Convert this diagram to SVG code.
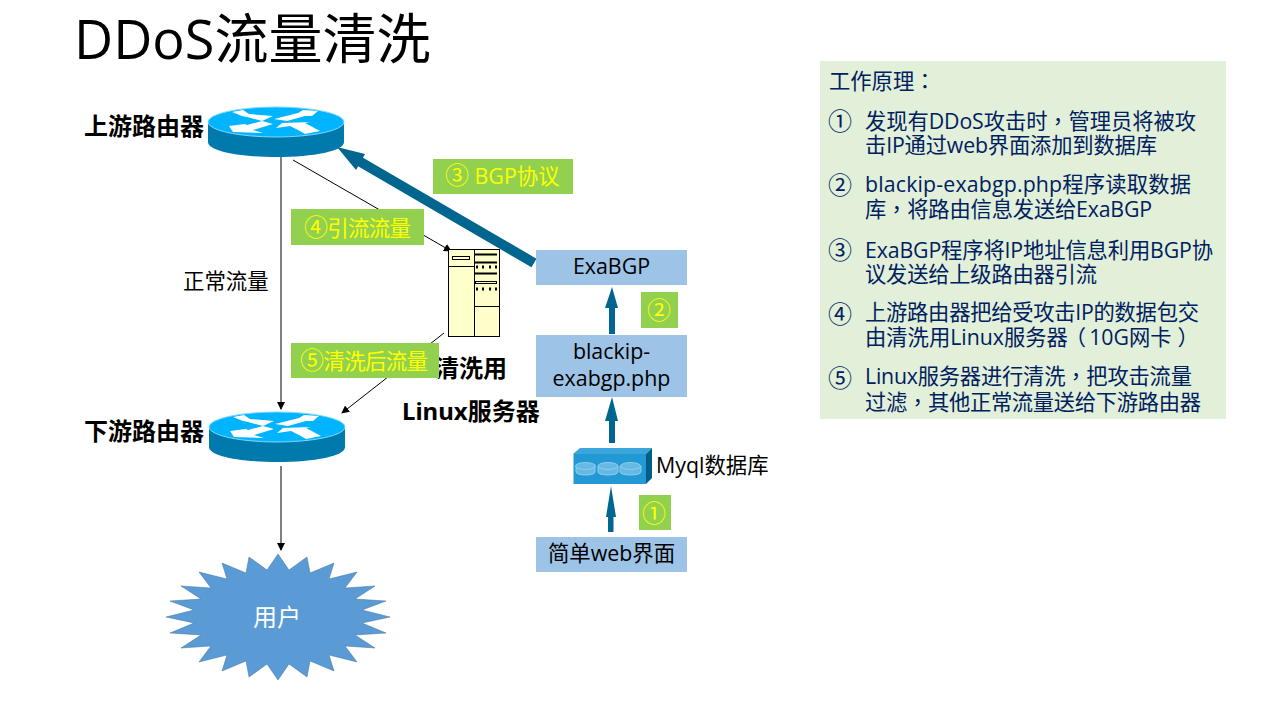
<svg xmlns="http://www.w3.org/2000/svg" width="1280" height="720" viewBox="0 0 1280 720">
<style>
text{font-family:"Open Sans","Noto Sans CJK SC",sans-serif}
.t{font-size:21.300px;fill:#002060}
.c{font-size:24px;fill:#002060;font-family:"Noto Sans CJK SC",sans-serif}
.p{font-family:"Noto Sans CJK TC",sans-serif}
.b{font-size:24px;font-weight:700;fill:#000;font-family:"Noto Sans","Noto Sans CJK SC",sans-serif}
.n{font-size:21.400px;fill:#000}
.y{font-size:21.400px;fill:#ffff00}
.o{font-size:24px;font-family:"Noto Sans CJK SC",sans-serif}
.g{fill:#92d050}
.bx{fill:#9dc3e6}
.th{stroke:#000;stroke-width:1;fill:none}
</style>
<defs>
<marker id="ah" markerWidth="8" markerHeight="8" refX="7" refY="4" orient="auto" markerUnits="userSpaceOnUse"><path d="M0 0L8 4L0 8Z" fill="#000"/></marker>
<g id="rt">
<path d="M-68 0V20C-68 29-38 35 0 35S68 29 68 20V0Z" fill="#0079ad"/>
<ellipse cx="0" cy="0" rx="68" ry="15" fill="#00b4ff" stroke="#7fd9ff" stroke-width="1"/>
<path d="M-44-10L-33-12L-27-8L-3-6L-14-1L-29-5L-34-6ZM42-11L27-12L22-9L-2-3L11-1L29-6L36-6ZM-47 4L-43 10L-13 11L-23 8L-3 2L-14-1L-29 3L-31 2ZM44 9L29 1L34 0L6 1L0 6L14 4L22 8L29 12Z" fill="#fff"/>
</g>
</defs>
<rect width="1280" height="720" fill="#fff"/>
<text id="title" x="74" y="59" font-size="54" fill="#000">DDoS流量清洗</text>
<g id="connectors">
<path class="th" d="M281 157V409" marker-end="url(#ah)"/>
<path class="th" d="M293 160L451 251" marker-end="url(#ah)"/>
<path class="th" d="M444 333L342 413" marker-end="url(#ah)"/>
<path class="th" d="M281 466V550" marker-end="url(#ah)"/>
<path d="M534 263L352 157" stroke="#00658f" stroke-width="10" fill="none"/>
<path d="M337 147L365 154L356 170Z" fill="#00658f"/>
<g fill="#00658f">
<path d="M609 334V308H605L612 287L618 308H615V334Z"/>
<path d="M609 443V421H605L612 397L618 421H615V443Z"/>
<path d="M608 532V517H606L611 486L616 517H613.500V532Z"/>
</g>
</g>
<g id="router-up"><use href="#rt" x="276" y="122"/><text class="b" x="84" y="135">上游路由器</text></g>
<g id="router-down"><use href="#rt" x="277" y="427"/><text class="b" x="84" y="440">下游路由器</text></g>
<g id="server">
<rect x="448.500" y="249.500" width="51" height="87" fill="#ffffcc" stroke="#000"/>
<path d="M474.500 249.500V336.500M448.500 266.500H474.500M474.500 306.500H499.500" stroke="#000" fill="none"/>
<rect x="452.500" y="256.500" width="17" height="3" fill="none" stroke="#000"/>
<path d="M475 254.500H497M475 262.500H497M475 273.500H497" stroke="#000" stroke-width="2"/>
<rect x="475.500" y="281.500" width="21" height="2" fill="none" stroke="#000"/>
<path d="M476 267H478M482 267H484M489 267H491M495 267H497M476 289H478M482 289H484M489 289H491M495 289H497" stroke="#000" stroke-width="3"/>
<text class="b" x="435" y="377">清洗用</text>
<text class="b" x="402" y="420">Linux服务器</text>
</g>
<g id="flow-label"><text class="n" x="183" y="289">正常流量</text></g>
<g id="label3"><rect class="g" x="433" y="159" width="140" height="35"/><text class="y" x="445" y="184"><tspan class="o">③</tspan> BGP协议</text></g>
<g id="label4"><rect class="g" x="291" y="209" width="133" height="36"/><text class="y" x="304" y="235.500" textLength="107"><tspan class="o">④</tspan>引流流量</text></g>
<g id="label5"><rect class="g" x="291" y="343" width="148" height="35"/><text class="y" x="300" y="369" textLength="128"><tspan class="o">⑤</tspan>清洗后流量</text></g>
<g id="exabgp"><rect class="bx" x="536" y="250" width="151" height="35"/><text class="n" x="611.500" y="274" text-anchor="middle">ExaBGP</text></g>
<g id="label2"><rect class="g" x="641" y="292" width="37" height="36"/><text class="y o" x="647" y="319">②</text></g>
<g id="php"><rect class="bx" x="536" y="335" width="151" height="62"/><text class="n" x="611.500" y="359" text-anchor="middle">blackip-</text><text class="n" x="611.500" y="386" text-anchor="middle">exabgp.php</text></g>
<g id="mysql">
<path d="M573 454L580 448H652L646 454Z" fill="#3aa6dc"/>
<path d="M646 454L652 448V478L646 484Z" fill="#005f88"/>
<rect x="573.500" y="454" width="72.500" height="30" fill="#2299d4"/>
<g fill="#66b9e4" stroke="#8fcdee" stroke-width="1">
<path d="M576 466V472C576 476 595 476 595 472V466Z"/><ellipse cx="585.500" cy="466" rx="10" ry="3.500"/>
<path d="M598 466V472C598 476 618 476 618 472V466Z"/><ellipse cx="608" cy="466" rx="10" ry="3.500"/>
<path d="M620 466V472C620 476 641 476 641 472V466Z"/><ellipse cx="630.500" cy="466" rx="10" ry="3.500"/>
</g>
<text class="n" x="656" y="473">Myql数据库</text>
</g>
<g id="label1"><rect class="g" x="639" y="495" width="32" height="35"/><text class="y o" x="642" y="522">①</text></g>
<g id="web"><rect class="bx" x="536" y="537" width="151" height="35"/><text class="n" x="611.500" y="561" text-anchor="middle">简单web界面</text></g>
<g id="user">
<path d="M278 554L267 570L249 557L246 573L222 563L227 579L199 572L211 588L181 586L201 599L170 601L194 610L166 617L194 623L170 633L201 635L181 648L211 646L199 662L227 655L222 671L246 661L249 677L267 664L278 680L289 664L307 677L310 661L334 671L329 655L357 662L345 646L375 648L355 635L386 633L362 623L390 617L362 610L386 601L355 599L375 586L345 588L357 572L329 579L334 563L310 573L307 557L289 570Z" fill="#5b9bd5" stroke="#41719c" stroke-width="0.500"/>
<text x="277" y="626" font-size="24" fill="#fff" text-anchor="middle">用户</text>
</g>
<g id="panel">
<rect x="820" y="61" width="406" height="358" fill="#e2efd9"/>
<text class="t" x="829" y="89">工作原理<tspan class="p">：</tspan></text>
<text class="c" x="828" y="130">①</text><text class="t" x="865" y="129" textLength="331">发现有DDoS攻击时<tspan class="p">，</tspan>管理员将被攻</text><text class="t" x="865" y="153" textLength="292">击IP通过web界面添加到数据库</text>
<text class="c" x="828" y="194">②</text><text class="t" x="865" y="192" textLength="326">blackip-exabgp.php程序读取数据</text><text class="t" x="865" y="217" textLength="287">库<tspan class="p">，</tspan>将路由信息发送给ExaBGP</text>
<text class="c" x="828" y="259">③</text><text class="t" x="865" y="258" textLength="348">ExaBGP程序将IP地址信息利用BGP协</text><text class="t" x="865" y="282" textLength="232">议发送给上级路由器引流</text>
<text class="c" x="828" y="323">④</text><text class="t" x="865" y="320" textLength="334">上游路由器把给受攻击IP的数据包交</text><text class="t" x="865" y="345">由清洗用Linux服务器<tspan class="p" dx="-3">（</tspan><tspan dx="3">10G网卡</tspan><tspan class="p" dx="6">）</tspan></text>
<text class="c" x="828" y="387">⑤</text><text class="t" x="865" y="384" textLength="327">Linux服务器进行清洗<tspan class="p">，</tspan>把攻击流量</text><text class="t" x="865" y="410" textLength="336">过滤<tspan class="p">，</tspan>其他正常流量送给下游路由器</text>
</g>
</svg>
